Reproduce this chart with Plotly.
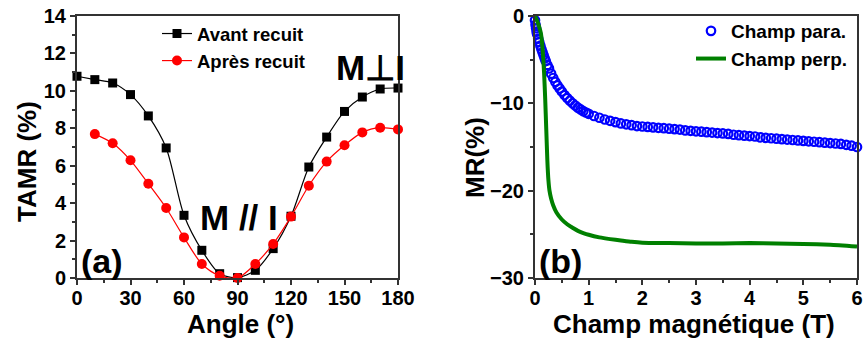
import plotly.graph_objects as go

# ---------- data: panel (a) ----------
angle_avant = [0, 10, 20, 30, 40, 50, 60, 70, 80, 90, 100, 110, 120, 130, 140, 150, 160, 170, 180]
tamr_avant = [10.78, 10.6, 10.42, 9.8, 8.66, 6.95, 3.35, 1.48, 0.23, 0.02, 0.41, 1.57, 3.3, 5.93, 7.53, 8.9, 9.67, 10.1, 10.15]
angle_apres = [10, 20, 30, 40, 50, 60, 70, 80, 90, 100, 110, 120, 130, 140, 150, 160, 170, 180]
tamr_apres = [7.69, 7.2, 6.29, 5.04, 3.74, 2.17, 0.75, 0.12, 0.0, 0.75, 1.82, 3.28, 4.93, 6.22, 7.09, 7.78, 8.03, 7.94]

# ---------- data: panel (b) ----------
field_para = [0.00, 0.01, 0.02, 0.03, 0.04, 0.06, 0.08, 0.10, 0.12, 0.14, 0.16, 0.18, 0.20, 0.23, 0.26,
              0.30, 0.34, 0.38, 0.42, 0.46, 0.50, 0.55, 0.60, 0.65, 0.70, 0.75, 0.80, 0.85, 0.90, 0.95,
              1.0, 1.1, 1.2, 1.3, 1.4, 1.5, 1.6, 1.7, 1.8, 1.9, 2.0, 2.1, 2.2, 2.3, 2.4, 2.5, 2.6, 2.7,
              2.8, 2.9, 3.0, 3.1, 3.2, 3.3, 3.4, 3.5, 3.6, 3.7, 3.8, 3.9, 4.0, 4.1, 4.2, 4.3, 4.4, 4.5,
              4.6, 4.7, 4.8, 4.9, 5.0, 5.1, 5.2, 5.3, 5.4, 5.5, 5.6, 5.7, 5.8, 5.9, 6.0]
mr_para = [-0.5, -1.0, -1.4, -1.8, -2.1, -2.6, -3.0, -3.4, -3.8, -4.15, -4.5, -4.85, -5.15, -5.6, -6.0,
           -6.6, -7.1, -7.55, -7.95, -8.3, -8.65, -9.05, -9.4, -9.7, -10.0, -10.25, -10.5, -10.7, -10.9, -11.05,
           -11.2, -11.45, -11.65, -11.85, -12.0, -12.15, -12.3, -12.4, -12.5, -12.6, -12.65, -12.7, -12.75, -12.8,
           -12.85, -12.9, -12.95, -13.0, -13.1, -13.15, -13.2, -13.25, -13.3, -13.35, -13.4, -13.45, -13.5, -13.6,
           -13.65, -13.7, -13.75, -13.8, -13.9, -13.95, -14.0, -14.05, -14.1, -14.15, -14.2, -14.25, -14.3, -14.35,
           -14.4, -14.45, -14.5, -14.55, -14.6, -14.65, -14.75, -14.85, -15.0]

field_perp = [0.00, 0.03, 0.06, 0.09, 0.11, 0.13, 0.15, 0.17, 0.19, 0.21, 0.23, 0.25, 0.27, 0.30, 0.34,
              0.40, 0.50, 0.60, 0.70, 0.80, 0.90, 1.00, 1.20, 1.40, 1.60, 1.80, 2.00, 2.50, 3.00, 3.50,
              4.00, 4.50, 5.00, 5.50, 6.00]
mr_perp = [0.0, -0.4, -0.9, -1.5, -2.0, -3.0, -4.5, -6.6, -9.5, -13.0, -16.5, -18.8, -20.0, -20.9, -21.7,
           -22.5, -23.3, -23.85, -24.25, -24.6, -24.85, -25.05, -25.35, -25.55, -25.7, -25.85, -25.95, -26.0,
           -26.05, -26.05, -26.0, -26.05, -26.1, -26.2, -26.4]

W, H = 863, 341
FONT = "Liberation Sans, Arial, sans-serif"


def px(x):
    return x / W


def py(y):
    return 1 - y / H


fig = go.Figure()

fig.add_trace(go.Scatter(
    x=angle_avant, y=tamr_avant, name="Avant recuit", mode="lines+markers",
    line=dict(color="black", width=1.2, shape="spline", smoothing=0.8),
    marker=dict(symbol="square", size=9, color="black"),
    cliponaxis=False, xaxis="x", yaxis="y", legend="legend"))
fig.add_trace(go.Scatter(
    x=angle_apres, y=tamr_apres, name="Après recuit", mode="lines+markers",
    line=dict(color="#ff0000", width=1.2, shape="spline", smoothing=0.8),
    marker=dict(symbol="circle", size=10, color="#ff0000"),
    cliponaxis=False, xaxis="x", yaxis="y", legend="legend"))

fig.add_trace(go.Scatter(
    x=field_para, y=mr_para, name="Champ para.", mode="markers",
    marker=dict(symbol="circle-open", size=8.5, color="#0000ff", line=dict(width=2.2)),
    cliponaxis=False, xaxis="x2", yaxis="y2", legend="legend2"))
fig.add_trace(go.Scatter(
    x=field_perp, y=mr_perp, name="Champ perp.", mode="lines",
    line=dict(color="#008000", width=4, shape="spline", smoothing=0.5),
    cliponaxis=False, xaxis="x2", yaxis="y2", legend="legend2"))

axis_common = dict(
    showline=True, linecolor="#333333", linewidth=2, mirror=True,
    ticks="outside", ticklen=5, tickwidth=1.5, tickcolor="#333333",
    showgrid=False, zeroline=False,
    tickfont=dict(family=FONT, size=20, color="black", weight="bold"),
    minor=dict(ticks="outside", ticklen=3, tickwidth=1.5, tickcolor="#333333", showgrid=False),
)

ytop, ybot = py(16), py(278)

fig.update_layout(
    width=W, height=H,
    margin=dict(l=0, r=0, t=0, b=0, autoexpand=False),
    paper_bgcolor="white", plot_bgcolor="white",
    showlegend=True,
    xaxis=dict(domain=[px(77), px(398)], range=[0, 180], tickvals=[0, 30, 60, 90, 120, 150, 180],
               anchor="y", ticklabelstandoff=-4, **axis_common),
    yaxis=dict(domain=[ybot, ytop], range=[0, 14], tickvals=[0, 2, 4, 6, 8, 10, 12, 14],
               anchor="x", **axis_common),
    xaxis2=dict(domain=[px(535), px(857)], range=[0, 6], tickvals=[0, 1, 2, 3, 4, 5, 6],
                anchor="y2", ticklabelstandoff=-4, **axis_common),
    yaxis2=dict(domain=[ybot, ytop], range=[-30, 0], tickvals=[-30, -20, -10, 0],
                anchor="x2", **axis_common),
    legend=dict(x=px(157), y=py(15), xanchor="left", yanchor="top", bgcolor="rgba(0,0,0,0)",
                font=dict(family=FONT, size=18.5, color="black", weight="bold"),
                tracegroupgap=0, itemwidth=30),
    legend2=dict(x=px(691), y=py(12), xanchor="left", yanchor="top", bgcolor="rgba(0,0,0,0)",
                 font=dict(family=FONT, size=19, color="black", weight="bold"),
                 tracegroupgap=0, itemwidth=30),
)
fig.layout.xaxis.minor.tickvals = [15, 45, 75, 105, 135, 165]
fig.layout.yaxis.minor.tickvals = [1, 3, 5, 7, 9, 11, 13]
fig.layout.xaxis2.minor.tickvals = [0.5, 1.5, 2.5, 3.5, 4.5, 5.5]
fig.layout.yaxis2.minor.tickvals = [-25, -15, -5]

bold = dict(family=FONT, color="black", weight="bold")


def ann(text, x, y, size, angle=0):
    fig.add_annotation(text=text, x=px(x), y=py(y), xref="paper", yref="paper",
                       showarrow=False, xanchor="center", yanchor="middle",
                       textangle=angle, font=dict(size=size, **bold))


ann("Angle (°)", 240, 324, 26)
ann("TAMR (%)", 27, 162, 26, -90)
ann("Champ magnétique (T)", 694, 324, 26)
ann("MR(%)", 475, 157, 26, -90)
ann("M⊥I", 370, 67, 35)
ann("M // I", 239, 217, 35)
ann("(a)", 102, 261, 34)
ann("(b)", 560, 261, 34)

fig.write_html(
    "out.html",
    config={"displayModeBar": False},
    post_script="document.body.style.margin='0';document.body.style.padding='0';"
                "document.body.style.overflow='hidden';",
)
